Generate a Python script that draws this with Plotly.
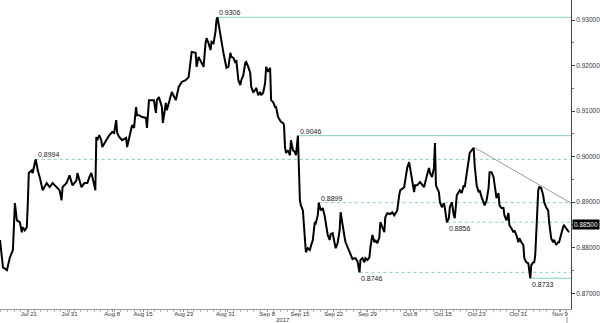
import plotly.graph_objects as go

# ---- price path (bar index -> price) ----
bar = [0,3,7,10,13,15,17,20,22,23,25,27,28,29,32,33,35,36,38,40,43,47,50,53,57,60,62,63,67,70,73,77,78,82,85,88,90,92,95,96,97,
       98,100,102,103,105,107,110,113,115,117,118,120,123,127,128,130,132,133,135,137,138,140,143,147,148,150,153,155,157,158,160,163,164,167,168,172,173,177,180,183,187,190,192,193,197,198,200,
       203,205,207,208,210,212,213,215,217,218,219,221,222,223,225,227,228,230,232,233,235,237,238,240,242,243,245,247,248,250,252,253,255,257,258,260,262,263,265,267,268,270,272,273,275,277,278,280,282,283,285,286,287,288,290,292,293,295,297,298,300,
       301,302,303,305,307,308,310,312,313,315,317,318,320,321,323,325,327,328,330,332,333,335,337,338,340,342,343,345,347,348,350,353,355,357,358,360,362,363,365,367,368,370,372,373,375,377,378,380,382,383,385,387,388,390,393,395,397,400,
       402,403,407,410,412,413,415,417,418,420,423,427,430,432,433,435,437,438,439,442,443,445,447,448,450,452,453,455,457,458,460,462,463,465,467,468,470,472,473,475,477,
       478,480,482,483,485,487,488,490,492,493,495,497,498,500,502,503,505,507,508,510,512,513,515,517,518,520,522,523,525,527,528,530,532,533,534,535,537,538,539,541,542,543,545,547,548,550,552,553,555,557,558,560,562,563,565,567,568,570,572,573]

price = [0.8817,0.8757,0.8751,0.8779,0.8795,0.8898,0.8860,0.8856,0.8834,0.8845,0.8838,0.8845,0.8898,0.8964,0.8970,0.8964,0.8986,0.8994,0.8970,0.8955,0.8926,0.8942,0.8933,0.8942,0.8933,0.8926,0.8904,0.8933,0.8942,0.8959,0.8937,0.8948,0.8964,0.8933,0.8942,0.8942,0.8955,0.8964,0.8937,0.8926,0.9043,
         0.9036,0.9047,0.9036,0.9021,0.9030,0.9036,0.9047,0.9054,0.9052,0.9080,0.9052,0.9043,0.9036,0.9041,0.9021,0.9043,0.9065,0.9069,0.9063,0.9109,0.9091,0.9091,0.9087,0.9085,0.9063,0.9124,0.9124,0.9124,0.9096,0.9124,0.9131,0.9109,0.9074,0.9118,0.9102,0.9131,0.9142,0.9124,0.9153,0.9164,0.9168,0.9175,0.9219,0.9230,0.9228,0.9197,0.9219,
         0.9206,0.9197,0.9249,0.9260,0.9249,0.9234,0.9252,0.9249,0.9274,0.9300,0.9306,0.9278,0.9263,0.9256,0.9228,0.9206,0.9195,0.9197,0.9228,0.9219,0.9217,0.9206,0.9212,0.9168,0.9157,0.9168,0.9179,0.9206,0.9208,0.9197,0.9184,0.9153,0.9142,0.9146,0.9151,0.9135,0.9142,0.9135,0.9140,0.9162,0.9197,0.9186,0.9195,0.9124,0.9120,0.9109,0.9109,0.9087,0.9080,0.9076,0.9074,0.9069,0.9021,0.9008,0.9014,0.9003,0.9036,0.9014,0.9010,0.9003,0.9046,
         0.8970,0.8904,0.8893,0.8882,0.8821,0.8790,0.8799,0.8795,0.8803,0.8817,0.8856,0.8854,0.8871,0.8899,0.8882,0.8887,0.8869,0.8854,0.8828,0.8817,0.8830,0.8832,0.8803,0.8799,0.8810,0.8838,0.8878,0.8845,0.8823,0.8812,0.8801,0.8784,0.8775,0.8777,0.8777,0.8770,0.8746,0.8773,0.8777,0.8768,0.8777,0.8773,0.8779,0.8801,0.8828,0.8812,0.8817,0.8810,0.8823,0.8856,0.8845,0.8834,0.8867,0.8876,0.8874,0.8878,0.8871,0.8882,
         0.8915,0.8926,0.8933,0.8975,0.8988,0.8975,0.8953,0.8922,0.8937,0.8937,0.8944,0.8933,0.8959,0.8975,0.8964,0.8955,0.8975,0.9030,0.8937,0.8922,0.8900,0.8889,0.8898,0.8887,0.8856,0.8865,0.8889,0.8900,0.8871,0.8865,0.8915,0.8922,0.8926,0.8920,0.8937,0.8933,0.8966,0.8997,0.9008,0.9014,0.9019,
         0.8981,0.8937,0.8922,0.8926,0.8911,0.8900,0.8893,0.8904,0.8931,0.8966,0.8966,0.8955,0.8937,0.8909,0.8920,0.8893,0.8887,0.8887,0.8871,0.8860,0.8876,0.8849,0.8843,0.8834,0.8838,0.8828,0.8812,0.8821,0.8812,0.8806,0.8777,0.8768,0.8766,0.8746,0.8733,0.8762,0.8768,0.8768,0.8784,0.8878,0.8926,0.8933,0.8931,0.8915,0.8900,0.8889,0.8882,0.8856,0.8821,0.8812,0.8817,0.8806,0.8812,0.8812,0.8832,0.8845,0.8849,0.8843,0.8838,0.8834]

# ---- axis labels ----
tick_bars = [29, 70, 113, 144, 185, 227, 269, 302, 336, 370, 413, 446, 480, 522, 564]
tick_labels = ["Jul 21", "Jul 31", "Aug 8", "Aug 15", "Aug 23", "Aug 31", "Sep 8", "Sep 15",
               "Sep 22", "Sep 29", "Oct 8", "Oct 15", "Oct 23", "Oct 31", "Nov 9"]
year_label = "2017"
year_bar = 285
price_ticks = [0.87, 0.88, 0.89, 0.90, 0.91, 0.92, 0.93]
last_marker = 0.885

# ---- support / resistance levels ----
levels = [0.9306, 0.9046, 0.8994, 0.8899, 0.8856, 0.8746, 0.8733]
level_bar = [219, 300, 36, 321, 450, 362, 534]
level_dashed = [False, False, True, True, True, True, False]
level_above = [True, True, True, True, False, False, False]

trend_bars = [477, 575]
trend_prices = [0.9021, 0.8898]

XMAX = 575
Y_RANGE = [0.86655, 0.93439]
FONT = "Liberation Sans, Arial, sans-serif"
LEVEL_COLOR = "#86cdbf"

fig = go.Figure()
fig.add_trace(go.Scatter(x=bar, y=price, mode="lines",
                         line=dict(color="#000000", width=2),
                         hoverinfo="skip", showlegend=False))
fig.add_trace(go.Scatter(x=trend_bars, y=trend_prices, mode="lines",
                         line=dict(color="#9a9a9a", width=1),
                         hoverinfo="skip", showlegend=False))

shapes = []
annotations = []
for lv, b, d, above in zip(levels, level_bar, level_dashed, level_above):
    shapes.append(dict(type="line", xref="x", yref="y", x0=b, x1=XMAX, y0=lv, y1=lv,
                       line=dict(color=LEVEL_COLOR, width=1, dash="3px,3px" if d else "solid"),
                       layer="below"))
    annotations.append(dict(x=b, y=lv, xref="x", yref="y", text=f"{lv:.4f}",
                            showarrow=False, xanchor="left",
                            yanchor="bottom" if above else "top",
                            yshift=-1 if above else -1,
                            font=dict(family=FONT, size=7, color="#222")))

annotations.append(dict(x=year_bar, y=0, xref="x", yref="paper", text=year_label,
                        showarrow=False, yanchor="middle", yshift=-10.5,
                        font=dict(family=FONT, size=6, color="#333")))
annotations.append(dict(x=1, y=last_marker, xref="paper", yref="y",
                        text=f"{last_marker:.5f}", showarrow=False, xanchor="left",
                        xshift=1, bgcolor="#000000", borderpad=1,
                        font=dict(family=FONT, size=6.5, color="#ffffff")))
shapes.append(dict(type="line", xref="x", yref="paper", x0=571, x1=571, y0=-0.026, y1=-0.05,
                   line=dict(color="#999", width=1)))

fig.update_layout(
    width=600, height=323,
    margin=dict(l=0, r=25, t=0, b=14),
    paper_bgcolor="white", plot_bgcolor="white",
    shapes=shapes, annotations=annotations,
    xaxis=dict(range=[0, XMAX], tickmode="array", tickvals=tick_bars, ticktext=tick_labels,
               showgrid=False, zeroline=False, showline=True, linecolor="#9a9a9a", linewidth=1,
               ticks="outside", ticklen=2, tickcolor="#9a9a9a", ticklabelstandoff=-3,
               tickfont=dict(family=FONT, size=6, color="#333"),
               minor=dict(tickmode="linear", tick0=1, dtick=6.7, ticks="outside",
                          ticklen=2, tickcolor="#b0b0b0")),
    yaxis=dict(range=Y_RANGE, side="right", tickmode="array", tickvals=price_ticks,
               ticktext=[f"{v:.5f}" for v in price_ticks],
               showgrid=False, zeroline=False, showline=True, linecolor="#444", linewidth=1,
               ticks="outside", ticklen=3, tickcolor="#444",
               tickfont=dict(family=FONT, size=6.5, color="#333"),
               minor=dict(tickmode="linear", tick0=0.865, dtick=0.005, ticks="outside",
                          ticklen=2, tickcolor="#777")),
)

fig.write_html("out.html")
